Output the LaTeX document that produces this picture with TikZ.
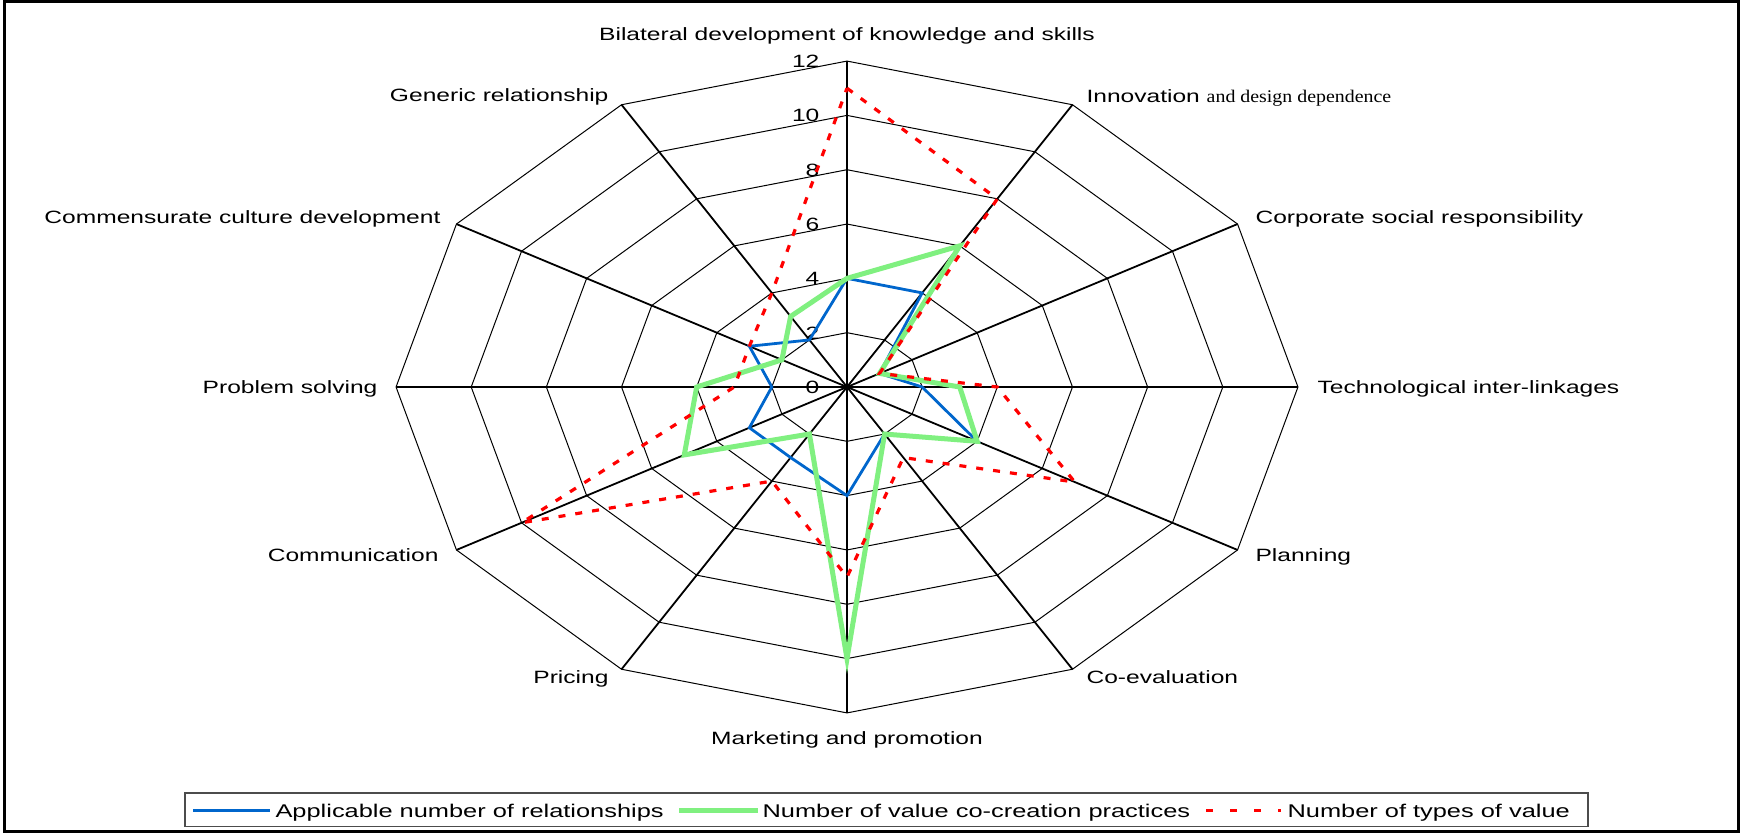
\documentclass[tikz,border=0pt]{standalone}
\usepackage{fontspec}
\setmainfont{Liberation Sans}
\newfontfamily\timesfont{Liberation Serif}
\usetikzlibrary{calc}

\definecolor{relblue}{RGB}{0,102,204}
\definecolor{pracgreen}{RGB}{128,240,128}
\definecolor{typered}{RGB}{255,0,0}

\begin{document}
\begin{tikzpicture}[x=0.5pt, y=-0.5pt,
		ring/.style={line width=0.5pt},
		spoke/.style={line width=0.9pt},
		relline/.style={line width=1.4pt, color=relblue},
		pracline/.style={line width=2.5pt, color=pracgreen},
		typeline/.style={line width=1.6pt, color=typered, dash pattern=on 3.5pt off 5pt},
		axlabel/.style={font=\fontsize{8.9}{10}\selectfont, xscale=1.38, inner sep=0pt, text height=6.4pt, text depth=0pt},
		ticklabel/.style={axlabel, anchor=east},
		legtext/.style={font=\fontsize{9.2}{10}\selectfont, xscale=1.38, inner sep=0pt, anchor=west, text height=6.6pt, text depth=0pt}]
	%%%%% START %%%%%

	\useasboundingbox (0,0) rectangle (1742,834);
	\draw[line width=1.5pt] (4.5,1.5) rectangle (1738.5,831.5);

	\begin{scope}[shift={(847,387)}, x=18.79pt, y=13.58pt]
		% rings
		\foreach \r in {2,4,...,12}
			\draw[ring] (90:\r) \foreach \a in {60,30,...,-240} { -- (\a:\r) } -- cycle;
		% spokes
		\foreach \a in {90,60,...,-240}
			\draw[spoke] (0,0) -- (\a:12);
		% scale
		\foreach \v in {0,2,...,12}
			\node[ticklabel] (tick\v) at (-0.72,\v) {\v};

		\draw[relline] (90:4) -- (60:4) -- (30:1) -- (0:2) -- (-30:4) -- (-60:2) -- (-90:4) -- (-120:3) -- (-150:3) -- (180:2) -- (150:3) -- (120:2) -- cycle;
		\draw[pracline] (90:4) -- (60:6) -- (30:1) -- (0:3) -- (-30:4) -- (-60:2) -- (-90:10) -- (-120:2) -- (-150:5) -- (180:4) -- (150:2) -- (120:3) -- cycle;
		\draw[typeline] (90:11) -- (60:8) -- (30:1) -- (0:4) -- (-30:7) -- (-60:3) -- (-90:7) -- (-120:4) -- (-150:10) -- (180:3) -- (150:3) -- (120:4) -- cycle;
	\end{scope}

	% axis names
	\node[axlabel] (lbilat) at (847,34) {Bilateral development of knowledge and skills};
	\node[axlabel, anchor=west] (linnov) at (1086,96) {Innovation {\timesfont\scalebox{0.81}[1]{and design dependence}}};
	\node[axlabel, anchor=west] (lcsr) at (1255,217) {Corporate social responsibility};
	\node[axlabel, anchor=west] (ltech) at (1317,387) {Technological inter-linkages};
	\node[axlabel, anchor=west] (lplan) at (1255,555) {Planning};
	\node[axlabel, anchor=west] (lcoev) at (1086,677) {Co-evaluation};
	\node[axlabel] (lmark) at (847,738) {Marketing and promotion};
	\node[axlabel, anchor=east] (lpric) at (609,677) {Pricing};
	\node[axlabel, anchor=east] (lcomm) at (439,555) {Communication};
	\node[axlabel, anchor=east] (lprob) at (378,387) {Problem solving};
	\node[axlabel, anchor=east] (lcult) at (441,217) {Commensurate culture development};
	\node[axlabel, anchor=east] (lgen) at (609,95) {Generic relationship};

	% legend
	\draw[line width=0.6pt, color=black!70] (185,793) rectangle (1588,826.5);
	\draw[relline] (193,810.5) -- (270,810.5);
	\node[legtext] (legrel) at (275,810.5) {Applicable number of relationships};
	\draw[pracline] (679,810.5) -- (758,810.5);
	\node[legtext] (legprac) at (762,810.5) {Number of value co-creation practices};
	\draw[typeline, dash pattern=on 3.5pt off 8.5pt] (1206,810.5) -- (1281,810.5);
	\node[legtext] (legtype) at (1287,810.5) {Number of types of value};

	%%%%% END %%%%%
\end{tikzpicture}
\end{document}
